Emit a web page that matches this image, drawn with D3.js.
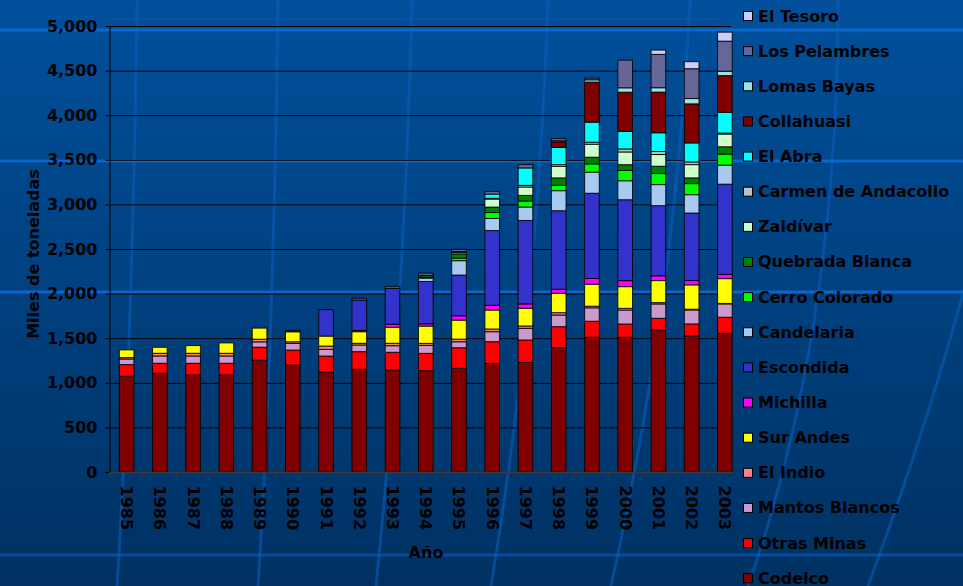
<!DOCTYPE html>
<html>
<head>
<meta charset="utf-8">
<script src="https://cdn.jsdelivr.net/npm/d3@7"></script>
<style>
  html, body { margin: 0; padding: 0; background: #003d7a; }
  svg { display: block; }
  text { font-family: "DejaVu Sans", Verdana, sans-serif; font-weight: bold; fill: #000; }
</style>
</head>
<body>
<svg id="chart" width="963" height="586"></svg>
<script>
// ---------- DATA ----------
const years = ["1985","1986","1987","1988","1989","1990","1991","1992","1993","1994",
               "1995","1996","1997","1998","1999","2000","2001","2002","2003"];

const seriesNames = ["Codelco","Otras Minas","Mantos Blancos","El Indio","Sur Andes","Michilla",
  "Escondida","Candelaria","Cerro Colorado","Quebrada Blanca","Zaldívar","Carmen de Andacollo",
  "El Abra","Collahuasi","Lomas Bayas","Los Pelambres","El Tesoro"];

const codelco        = [1073,1107,1088,1088,1253,1199,1120,1151,1143,1135,1162,1218,1229,1393,1510,1510,1592,1525,1555];
const otrasMinas     = [131,112,131,131,146,168,180,198,199,195,231,243,251,236,180,149,131,135,180];
const mantosBlancos  = [63,82,82,82,60,75,75,75,74,90,67,112,131,131,151,157,161,157,150];
const elIndio        = [15,30,30,30,30,18,37,19,27,22,30,30,26,26,18,19,15,8,5];
const surAndes       = [87,67,86,116,124,112,112,130,180,194,213,213,199,218,247,243,247,273,278];
const michilla       = [0,0,0,0,0,0,0,15,34,25,48,53,48,45,64,67,53,48,48];
const escondida      = [0,0,0,0,0,16,296,340,400,475,457,838,936,880,955,907,787,757,1011];
const candelaria     = [0,0,0,0,0,0,0,0,0,38,161,135,151,225,236,213,236,206,213];
const cerroColorado  = [0,0,0,0,0,0,0,0,0,10,28,67,67,60,93,116,124,124,124];
const quebradaBlanca = [0,0,0,0,0,0,0,0,0,20,49,61,63,83,75,64,82,64,82];
const zaldivar       = [0,0,0,0,0,0,0,0,0,0,15,90,94,130,146,143,131,149,143];
const carmen         = [0,0,0,0,0,0,0,0,0,0,10,8,18,19,22,34,34,30,11];
const elAbra         = [0,0,0,0,0,0,0,0,0,0,0,48,196,194,225,198,210,213,233];
const collahuasi     = [0,0,0,0,0,0,0,0,0,0,0,0,0,61,449,438,456,438,411];
const lomasBayas     = [0,0,0,0,0,0,0,0,0,0,0,0,0,12,26,49,49,60,49];
const losPelambres   = [0,0,0,0,0,0,0,20,20,25,25,30,37,25,19,310,374,334,337];
const elTesoro       = [0,0,0,0,0,0,0,0,0,0,0,0,0,0,0,0,48,79,101];

const seriesValues = [codelco, otrasMinas, mantosBlancos, elIndio, surAndes, michilla, escondida,
  candelaria, cerroColorado, quebradaBlanca, zaldivar, carmen, elAbra, collahuasi, lomasBayas,
  losPelambres, elTesoro];

const seriesColors = ["#800000","#FF0000","#CC99CC","#FF8080","#FFFF00","#FF00FF","#3333CC",
  "#A6CAF0","#00FF00","#008000","#CCFFCC","#C0C0C0","#00FFFF","#800000","#A0E0E0","#666699","#CCCCFF"];

const yTicks = [0,500,1000,1500,2000,2500,3000,3500,4000,4500,5000];

// ---------- BUILD ----------
const table = years.map((y, i) => {
  const row = { year: y };
  seriesNames.forEach((s, k) => row[s] = seriesValues[k][i]);
  return row;
});

const svg = d3.select("#chart");
const W = 963, H = 586;

// background
const defs = svg.append("defs");
const grad = defs.append("linearGradient").attr("id","bg").attr("x1",0).attr("y1",0).attr("x2",0).attr("y2",1);
grad.append("stop").attr("offset","0%").attr("stop-color","#01509c");
grad.append("stop").attr("offset","100%").attr("stop-color","#003162");
svg.append("rect").attr("width",W).attr("height",H).attr("fill","url(#bg)");

// decorative curves
const curves = [
  [[137,0],[133,330],[117,586]],
  [[278,0],[274,330],[258,586]],
  [[412,0],[405,300],[376,586]],
  [[548,0],[538,300],[491,586]],
  [[690,0],[675,300],[611,586]],
  [[838,0],[838,330],[748,586]],
  [[975,250],[930,420],[868,586]]
];
svg.append("g").selectAll("path").data(curves).join("path")
  .attr("d", d => `M${d[0][0]},${d[0][1]} Q${d[1][0]},${d[1][1]} ${d[2][0]},${d[2][1]}`)
  .attr("fill","none").attr("stroke","#0a5fc0").attr("stroke-opacity",0.55).attr("stroke-width",3);

// bright horizontal lines
svg.append("g").selectAll("line").data([30,161,292,555]).join("line")
  .attr("x1",0).attr("x2",W).attr("y1",d=>d).attr("y2",d=>d)
  .attr("stroke","#0a68d0").attr("stroke-width",3).attr("stroke-opacity",d => d===555?0.5:0.95);

// scales
const x = d3.scaleBand().domain(years).range([110, 741.5]).paddingInner(0.56).paddingOuter(0.28);
const y = d3.scaleLinear().domain([0,5000]).range([472, 26]);

// gridlines
svg.append("g").selectAll("line").data(yTicks.filter(t=>t>0)).join("line")
  .attr("x1",110).attr("x2",731).attr("y1",d=>y(d)+0.5).attr("y2",d=>y(d)+0.5)
  .attr("stroke","#000").attr("stroke-width",1);

// bars
const stack = d3.stack().keys(seriesNames);
const stacked = stack(table);
svg.append("g").selectAll("g").data(stacked).join("g")
  .attr("fill",(d,i)=>seriesColors[i])
  .selectAll("rect").data(d=>d.filter(p=>p[1]-p[0]>0)).join("rect")
  .attr("x",d=>x(d.data.year))
  .attr("width",x.bandwidth())
  .attr("y",d=>y(d[1]))
  .attr("height",d=>y(d[0])-y(d[1]))
  .attr("stroke","#000").attr("stroke-opacity",0.85).attr("stroke-width",1);

// y axis
const yAxis = d3.axisLeft(y).tickValues(yTicks).tickFormat(d3.format(",")).tickSize(4).tickPadding(8);
const yg = svg.append("g").attr("transform","translate(109.5,0)").call(yAxis);
yg.select(".domain").attr("stroke","#000");
yg.selectAll(".tick line").attr("stroke","#000");
yg.selectAll("text").style("font-size","16px").attr("fill","#000");

// x axis
const xg = svg.append("g").attr("transform","translate(0,472.5)");
xg.append("line").attr("x1",109.5).attr("x2",733).attr("stroke","#3a3a3a").attr("stroke-width",1.5);
const step = x.step();
xg.selectAll("line.t").data(years).join("line").attr("class","t")
  .attr("x1",d=>x(d)-x.paddingOuter()*step*0+ -x.bandwidth()*0 - (step - x.bandwidth())/2)
  .attr("x2",d=>x(d) - (step - x.bandwidth())/2)
  .attr("y1",0).attr("y2",4).attr("stroke","#3a3a3a");
xg.selectAll("text").data(years).join("text")
  .attr("transform",d=>`translate(${x(d)+x.bandwidth()/2},13) rotate(90)`)
  .attr("text-anchor","start").attr("dominant-baseline","central")
  .style("font-size","16px").text(d=>d);

// axis titles
svg.append("text").attr("x",426).attr("y",552).attr("text-anchor","middle")
  .attr("dominant-baseline","central").style("font-size","16px").text("Año");
svg.append("text").attr("transform","translate(33,254) rotate(-90)").attr("text-anchor","middle")
  .attr("dominant-baseline","central").style("font-size","16px").text("Miles de toneladas");

// legend
const legendOrder = seriesNames.map((s,i)=>({name:s,color:seriesColors[i]})).reverse();
const lg = svg.append("g").selectAll("g").data(legendOrder).join("g")
  .attr("transform",(d,i)=>`translate(743.5,${16 + i*35.14})`);
lg.append("rect").attr("x",0).attr("y",-4.5).attr("width",9).attr("height",9)
  .attr("fill",d=>d.color).attr("stroke","#000").attr("stroke-width",1);
lg.append("text").attr("x",14.5).attr("y",0).attr("dominant-baseline","central")
  .style("font-size","16px").text(d=>d.name);
</script>
</body>
</html>
